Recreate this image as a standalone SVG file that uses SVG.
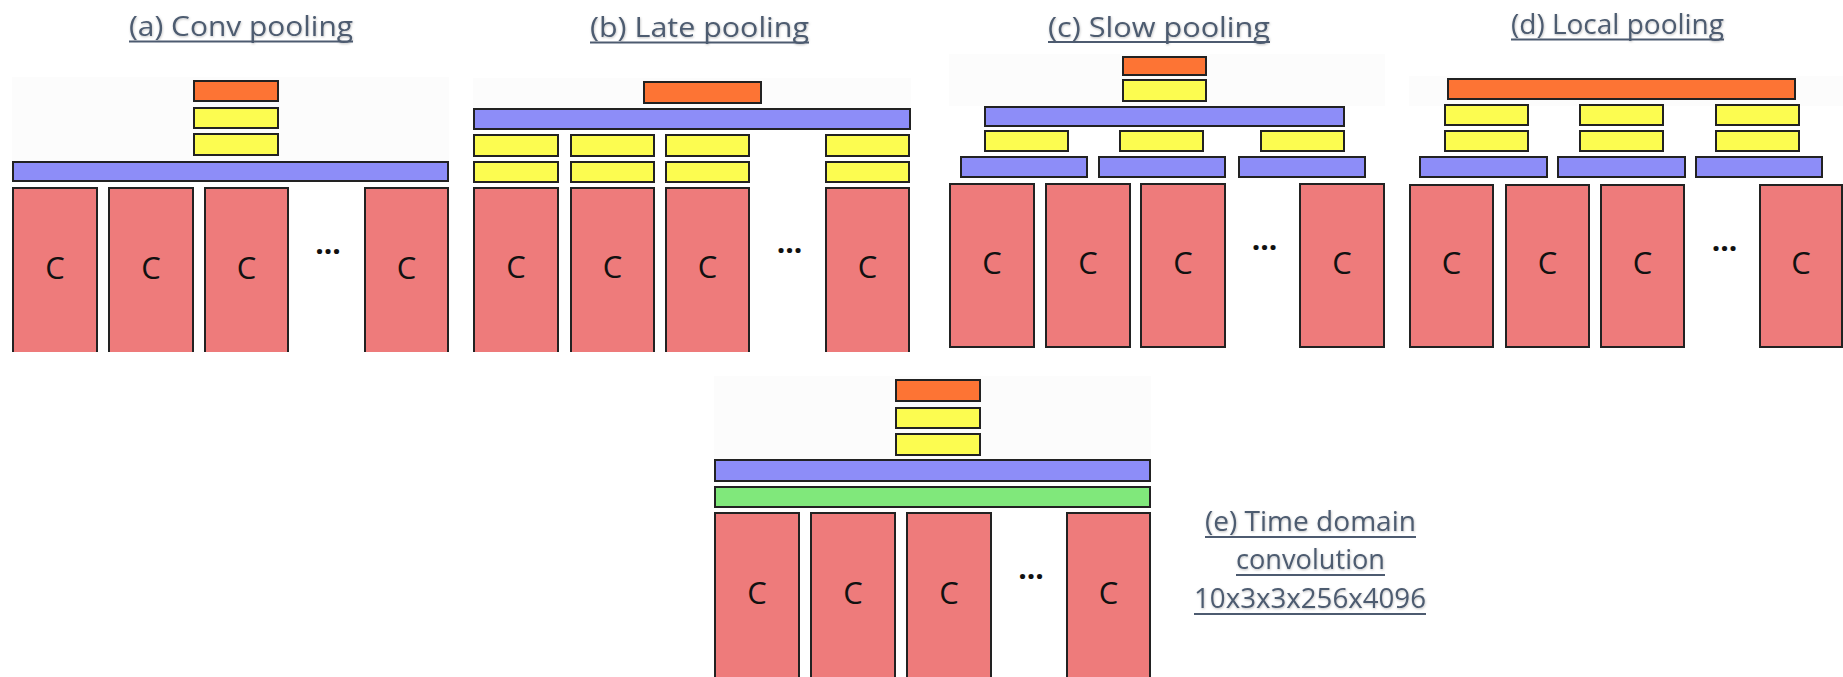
<svg xmlns="http://www.w3.org/2000/svg" width="1843" height="677" viewBox="0 0 1843 677">
<defs>
<style>
.bx{stroke:#222;stroke-width:2}
.o{fill:#fd7434}
.y{fill:#fcfc50}
.b{fill:#8d8df8}
.g{fill:#80e87b}
.c{fill:#ee7b7b}
.bg{fill:#fcfcfc}
.t{font-family:"Open Sans","Liberation Sans",sans-serif;font-size:28px;fill:#4d5b70;text-anchor:middle;filter:url(#sh)}
.ul{stroke:#4d5b70;stroke-width:2}
.lc{font-family:"Open Sans","Liberation Sans",sans-serif;font-size:31px;fill:#111;text-anchor:middle}
.dt{font-family:"Open Sans","Liberation Sans",sans-serif;font-size:30px;font-weight:bold;fill:#111;text-anchor:middle}
</style>
<filter id="sh" x="-10%" y="-30%" width="120%" height="160%">
<feDropShadow dx="0.5" dy="1" stdDeviation="1.2" flood-color="#000" flood-opacity="0.25"/>
</filter>
<clipPath id="clipTop"><rect x="0" y="0" width="1843" height="352"/></clipPath>
</defs>
<rect width="1843" height="677" fill="#fff"/>

<g id="panel-a">
<rect class="bg" x="12" y="77" width="437" height="84"/>
<text class="t" x="241" y="36" textLength="224" lengthAdjust="spacingAndGlyphs">(a) Conv pooling</text>
<line class="ul" x1="129" y1="41.5" x2="353" y2="41.5"/>
<rect class="bx o" x="194" y="81" width="84" height="20"/>
<rect class="bx y" x="194" y="108" width="84" height="20"/>
<rect class="bx y" x="194" y="134" width="84" height="21"/>
<rect class="bx b" x="13" y="162" width="435" height="19"/>
<g clip-path="url(#clipTop)">
<rect class="bx c" x="13" y="188" width="84" height="175"/>
<rect class="bx c" x="109" y="188" width="84" height="175"/>
<rect class="bx c" x="205" y="188" width="83" height="175"/>
<rect class="bx c" x="365" y="188" width="83" height="175"/>
</g>
<text class="lc" x="55" y="279">C</text>
<text class="lc" x="151" y="279">C</text>
<text class="lc" x="246.5" y="279">C</text>
<text class="lc" x="406.5" y="279">C</text>
<text class="dt" x="328" y="254">...</text>
</g>

<g id="panel-b">
<rect class="bg" x="473" y="78" width="438" height="30"/>
<text class="t" x="699.5" y="37" textLength="219" lengthAdjust="spacingAndGlyphs">(b) Late pooling</text>
<line class="ul" x1="590" y1="42.5" x2="809" y2="42.5"/>
<rect class="bx o" x="644" y="82" width="117" height="21"/>
<rect class="bx b" x="474" y="109" width="436" height="20"/>
<rect class="bx y" x="474" y="135" width="84" height="21"/>
<rect class="bx y" x="571" y="135" width="83" height="21"/>
<rect class="bx y" x="666" y="135" width="83" height="21"/>
<rect class="bx y" x="826" y="135" width="83" height="21"/>
<rect class="bx y" x="474" y="162" width="84" height="20"/>
<rect class="bx y" x="571" y="162" width="83" height="20"/>
<rect class="bx y" x="666" y="162" width="83" height="20"/>
<rect class="bx y" x="826" y="162" width="83" height="20"/>
<g clip-path="url(#clipTop)">
<rect class="bx c" x="474" y="188" width="84" height="175"/>
<rect class="bx c" x="571" y="188" width="83" height="175"/>
<rect class="bx c" x="666" y="188" width="83" height="175"/>
<rect class="bx c" x="826" y="188" width="83" height="175"/>
</g>
<text class="lc" x="516" y="278">C</text>
<text class="lc" x="612.5" y="278">C</text>
<text class="lc" x="707.5" y="278">C</text>
<text class="lc" x="867.5" y="278">C</text>
<text class="dt" x="789.5" y="253">...</text>
</g>

<g id="panel-c">
<rect class="bg" x="949" y="54" width="436" height="52"/>
<text class="t" x="1159" y="37" textLength="222" lengthAdjust="spacingAndGlyphs">(c) Slow pooling</text>
<line class="ul" x1="1048" y1="42" x2="1270" y2="42"/>
<rect class="bx o" x="1123" y="57" width="83" height="18"/>
<rect class="bx y" x="1123" y="80" width="83" height="21"/>
<rect class="bx b" x="985" y="107" width="359" height="19"/>
<rect class="bx y" x="985" y="131" width="83" height="20"/>
<rect class="bx y" x="1120" y="131" width="83" height="20"/>
<rect class="bx y" x="1261" y="131" width="83" height="20"/>
<rect class="bx b" x="961" y="157" width="126" height="20"/>
<rect class="bx b" x="1099" y="157" width="126" height="20"/>
<rect class="bx b" x="1239" y="157" width="126" height="20"/>
<rect class="bx c" x="950" y="184" width="84" height="163"/>
<rect class="bx c" x="1046" y="184" width="84" height="163"/>
<rect class="bx c" x="1141" y="184" width="84" height="163"/>
<rect class="bx c" x="1300" y="184" width="84" height="163"/>
<text class="lc" x="992" y="274">C</text>
<text class="lc" x="1088" y="274">C</text>
<text class="lc" x="1183" y="274">C</text>
<text class="lc" x="1342" y="274">C</text>
<text class="dt" x="1264.5" y="250">...</text>
</g>

<g id="panel-d">
<rect class="bg" x="1409" y="76" width="434" height="30"/>
<text class="t" x="1617.5" y="34" textLength="213" lengthAdjust="spacingAndGlyphs">(d) Local pooling</text>
<line class="ul" x1="1511" y1="39.5" x2="1724" y2="39.5"/>
<rect class="bx o" x="1448" y="79" width="347" height="20"/>
<rect class="bx y" x="1445" y="105" width="83" height="20"/>
<rect class="bx y" x="1580" y="105" width="83" height="20"/>
<rect class="bx y" x="1716" y="105" width="83" height="20"/>
<rect class="bx y" x="1445" y="131" width="83" height="20"/>
<rect class="bx y" x="1580" y="131" width="83" height="20"/>
<rect class="bx y" x="1716" y="131" width="83" height="20"/>
<rect class="bx b" x="1420" y="157" width="127" height="20"/>
<rect class="bx b" x="1558" y="157" width="127" height="20"/>
<rect class="bx b" x="1696" y="157" width="126" height="20"/>
<rect class="bx c" x="1410" y="185" width="83" height="162"/>
<rect class="bx c" x="1506" y="185" width="83" height="162"/>
<rect class="bx c" x="1601" y="185" width="83" height="162"/>
<rect class="bx c" x="1760" y="185" width="82" height="162"/>
<text class="lc" x="1451.5" y="274">C</text>
<text class="lc" x="1547.5" y="274">C</text>
<text class="lc" x="1642.5" y="274">C</text>
<text class="lc" x="1801" y="274">C</text>
<text class="dt" x="1724.5" y="251">...</text>
</g>

<g id="panel-e">
<rect class="bg" x="714" y="376" width="437" height="83"/>
<rect class="bx o" x="896" y="380" width="84" height="21"/>
<rect class="bx y" x="896" y="408" width="84" height="20"/>
<rect class="bx y" x="896" y="434" width="84" height="21"/>
<rect class="bx b" x="715" y="460" width="435" height="21"/>
<rect class="bx g" x="715" y="487" width="435" height="20"/>
<rect class="bx c" x="715" y="513" width="84" height="180"/>
<rect class="bx c" x="811" y="513" width="84" height="180"/>
<rect class="bx c" x="907" y="513" width="84" height="180"/>
<rect class="bx c" x="1067" y="513" width="83" height="180"/>
<text class="lc" x="757" y="604">C</text>
<text class="lc" x="853" y="604">C</text>
<text class="lc" x="949" y="604">C</text>
<text class="lc" x="1108.5" y="604">C</text>
<text class="dt" x="1031" y="579">...</text>
<text class="t" x="1310.5" y="531" textLength="211" lengthAdjust="spacingAndGlyphs">(e) Time domain</text>
<line class="ul" x1="1205" y1="537" x2="1416" y2="537"/>
<text class="t" x="1310.5" y="569" textLength="149" lengthAdjust="spacingAndGlyphs">convolution</text>
<line class="ul" x1="1236" y1="575" x2="1385" y2="575"/>
<text class="t" x="1310" y="608" textLength="232" lengthAdjust="spacingAndGlyphs">10x3x3x256x4096</text>
<line class="ul" x1="1194" y1="614" x2="1426" y2="614"/>
</g>

<g id="connectors"></g>
</svg>
